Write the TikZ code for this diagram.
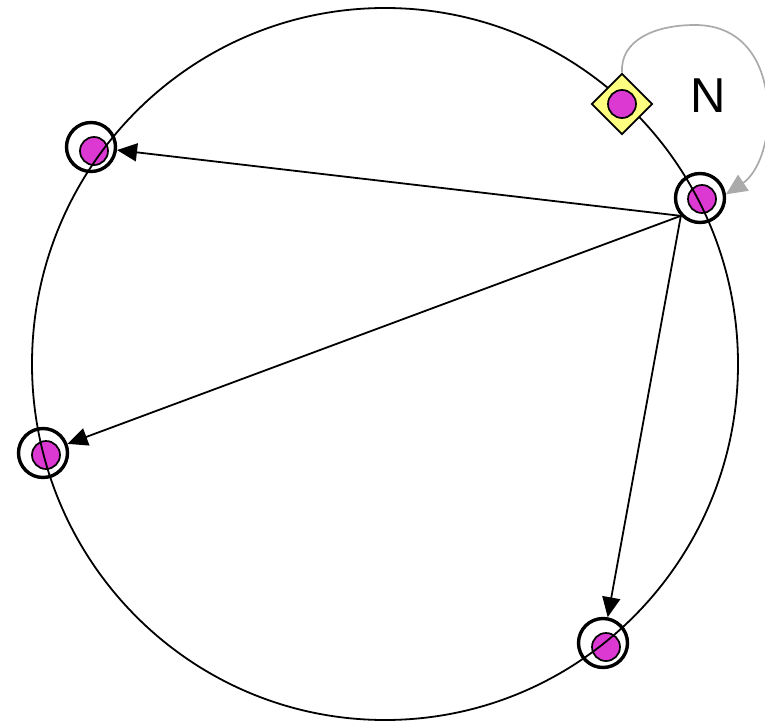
\documentclass[tikz,border=0pt]{standalone}
\usepackage{fontspec}
\setmainfont{Liberation Sans}
\usetikzlibrary{arrows.meta,shapes.geometric}
\definecolor{dotmag}{RGB}{220,56,210}
\definecolor{diayel}{RGB}{255,255,128}
\definecolor{loopgray}{RGB}{170,170,170}
\tikzset{
  ring/.style={circle,draw=black,line width=3.4pt,minimum size=49pt,inner sep=0pt,fill=white},
  dot/.style={circle,draw=black,line width=1.7pt,fill=dotmag,minimum size=28pt,inner sep=0pt},
  diabox/.style={diamond,draw=black,line width=1.7pt,fill=diayel,minimum size=61pt,inner sep=0pt},
  msg/.style={line width=1.8pt,-{Triangle[length=20pt,width=18pt]}},
  loop/.style={line width=1.7pt,draw=loopgray,-{Triangle[length=21pt,width=19pt,fill=loopgray]}},
}
\begin{document}
\begin{tikzpicture}[x=1pt,y=-1pt]
\useasboundingbox (0,0) rectangle (765,722);
% rings
\node[ring] (ra) at (700,198) {};
\node[ring] (rb) at (91,147) {};
\node[ring] (rc) at (43,453) {};
\node[ring] (rd) at (603,643) {};
% dots
\node[dot] (da) at (702,199) {};
\node[dot] (db) at (94,151) {};
\node[dot] (dc) at (46,455) {};
\node[dot] (dd) at (606,647) {};
% big circle
\draw[line width=1.8pt] (385,364) ellipse [x radius=353, y radius=356];
% diamond node
\node[diabox] (dm) at (622,104) {};
\node[dot] (de) at (622,104) {};
% label
\node[font=\fontsize{49}{49}\selectfont] (lab) at (708,96) {N};
% arrows
\coordinate (src) at (ra.223);
\draw[msg] (src) -- (rb);
\draw[msg] (src) -- (rc);
\draw[msg] (src) -- (rd);
% gray loop
\draw[loop] (dm.north) .. controls (620,40) and (655,25) .. (695,25)
  .. controls (745,25) and (768,65) .. (768,115)
  .. controls (768,150) and (755,175) .. (ra.8);
\end{tikzpicture}
\end{document}
